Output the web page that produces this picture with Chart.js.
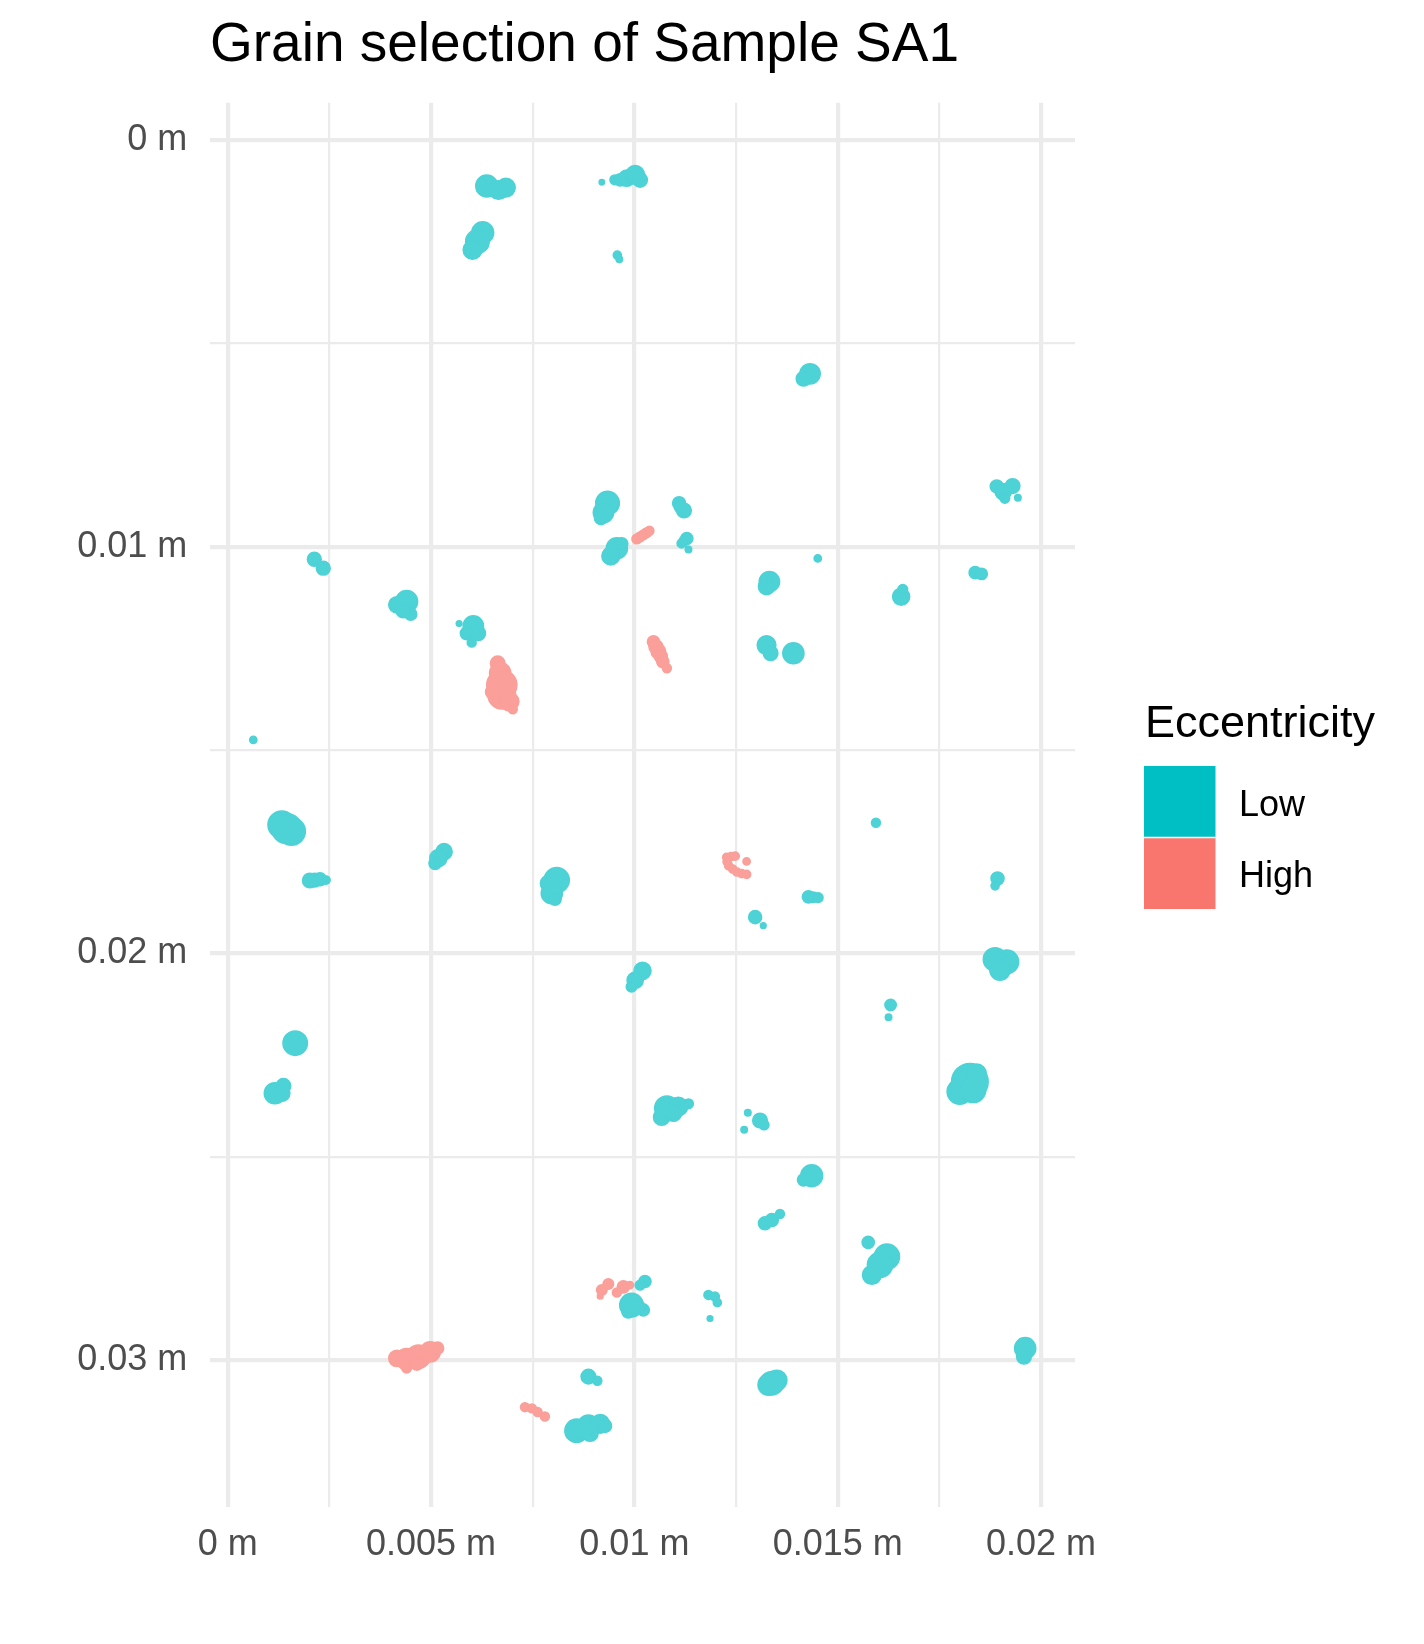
<!DOCTYPE html>
<html>
<head>
<meta charset="utf-8">
<script src="https://cdn.jsdelivr.net/npm/chart.js@4/dist/chart.umd.min.js"></script>
<style>
  html, body { margin: 0; padding: 0; background: #ffffff; }
  #wrap { width: 1424px; height: 1644px; position: relative; }
  canvas { display: block; }
</style>
</head>
<body>
<div id="wrap"><canvas id="c" width="1424" height="1644"></canvas></div>
<script>
// ---------------- DATA (metres) ----------------
const chartTitle = 'Grain selection of Sample SA1';
const legendTitle = 'Eccentricity';
const categories = ['Low', 'High'];

// axis ticks
const xMajor = [0, 0.005, 0.01, 0.015, 0.02];
const xLabels = ['0 m', '0.005 m', '0.01 m', '0.015 m', '0.02 m'];
const xMinor = [0.0025, 0.0075, 0.0125, 0.0175];
const yMajor = [0, 0.01, 0.02, 0.03];
const yLabels = ['0 m', '0.01 m', '0.02 m', '0.03 m'];
const yMinor = [0.005, 0.015, 0.025];
const xRange = [-0.000435, 0.020835];
const yRange = [-0.000917, 0.033615];

// Low eccentricity grains: lobe centres (x, y) and lobe radius r, one grain per line
const lowX = [
  0.00637, 0.00666, 0.00684,
  0.00627, 0.00614, 0.00602,
  0.00920,
  0.00952, 0.00965, 0.00981, 0.01002, 0.01014,
  0.00958, 0.00963,
  0.00934, 0.00924, 0.00918,
  0.00957, 0.00942, 0.00969,
  0.00213, 0.00235,
  0.01432, 0.01416,
  0.01891, 0.01907, 0.01930, 0.01943, 0.01911,
  0.01110, 0.01122, 0.01113,
  0.01129, 0.01116, 0.01133, 0.01122,
  0.01451,
  0.01838, 0.01854,
  0.00440, 0.00416, 0.00450, 0.00432,
  0.00604, 0.00616, 0.00588, 0.00600, 0.00569,
  0.00063,
  0.00133, 0.00157, 0.00145,
  0.00202, 0.00214, 0.00227, 0.00242,
  0.00532, 0.00518, 0.00510,
  0.00809, 0.00789, 0.00797, 0.00805,
  0.01020, 0.01002, 0.00993,
  0.01332, 0.01325,
  0.01325, 0.01335,
  0.01391,
  0.01656, 0.01660,
  0.01594,
  0.01428, 0.01440, 0.01452,
  0.01297, 0.01317,
  0.01893, 0.01887,
  0.01887, 0.01916, 0.01899, 0.01924,
  0.01630, 0.01625,
  0.00166,
  0.00116, 0.00137, 0.00133,
  0.00993, 0.01022, 0.01026, 0.01014, 0.00985, 0.01008,
  0.00887, 0.00909,
  0.00858, 0.00887, 0.00916, 0.00928, 0.00891, 0.00875,
  0.01080, 0.01067, 0.01108, 0.01133, 0.01096,
  0.01309, 0.01319, 0.01279, 0.01270,
  0.01825, 0.01800, 0.01833, 0.01842,
  0.01436, 0.01416,
  0.01321, 0.01338, 0.01358,
  0.01575, 0.01621, 0.01604, 0.01584,
  0.01182, 0.01198, 0.01204, 0.01186,
  0.01961, 0.01958,
  0.01330, 0.01350, 0.01338
];
const lowY = [
  0.00113, 0.00123, 0.00117,
  0.00228, 0.00250, 0.00270,
  0.00104,
  0.00098, 0.00098, 0.00094, 0.00086, 0.00098,
  0.00283, 0.00293,
  0.00893, 0.00916, 0.00930,
  0.01004, 0.01023, 0.00993,
  0.01031, 0.01053,
  0.00575, 0.00587,
  0.00852, 0.00865, 0.00851, 0.00880, 0.00881,
  0.00893, 0.00911, 0.00902,
  0.00980, 0.00992, 0.01007, 0.00986,
  0.01029,
  0.01064, 0.01067,
  0.01135, 0.01143, 0.01166, 0.01157,
  0.01195, 0.01213, 0.01213, 0.01236, 0.01189,
  0.01475,
  0.01684, 0.01700, 0.01693,
  0.01821, 0.01820, 0.01818, 0.01820,
  0.01750, 0.01766, 0.01779,
  0.01820, 0.01828, 0.01852, 0.01867,
  0.02043, 0.02066, 0.02082,
  0.01086, 0.01098,
  0.01242, 0.01262,
  0.01262,
  0.01123, 0.01105,
  0.01679,
  0.01861, 0.01862, 0.01863,
  0.01911, 0.01932,
  0.01816, 0.01834,
  0.02015, 0.02021, 0.02041, 0.02018,
  0.02127, 0.02157,
  0.02221,
  0.02344, 0.02326, 0.02344,
  0.02865, 0.02877, 0.02807, 0.02816, 0.02881, 0.02870,
  0.03041, 0.03051,
  0.03174, 0.03160, 0.03157, 0.03162, 0.03180, 0.03170,
  0.02381, 0.02403, 0.02377, 0.02370, 0.02393,
  0.02411, 0.02422, 0.02392, 0.02434,
  0.02316, 0.02340, 0.02336, 0.02295,
  0.02547, 0.02557,
  0.02664, 0.02656, 0.02641,
  0.02711, 0.02746, 0.02766, 0.02791,
  0.02840, 0.02844, 0.02859, 0.02898,
  0.02971, 0.02992,
  0.03061, 0.03050, 0.03057
];
const lowR = [
  0.00027, 0.00023, 0.00023,
  0.00027, 0.00029, 0.00023,
  0.000066,
  0.00012, 0.00015, 0.00020, 0.00023, 0.00018,
  0.00010, 0.00008,
  0.00029, 0.00025, 0.00016,
  0.00026, 0.00022, 0.00015,
  0.00017, 0.00017,
  0.00025, 0.00018,
  0.00016, 0.00020, 0.00018, 0.00008, 0.00012,
  0.00016, 0.00018, 0.00015,
  0.00015, 0.00011, 0.00008, 0.00012,
  0.00009,
  0.00015, 0.00014,
  0.00027, 0.00020, 0.00015, 0.00018,
  0.00025, 0.00018, 0.00016, 0.00011, 0.00007,
  0.00009,
  0.00034, 0.00034, 0.00037,
  0.00018, 0.00017, 0.00016, 0.00010,
  0.00020, 0.00021, 0.00015,
  0.00031, 0.00020, 0.00026, 0.00015,
  0.00021, 0.00020, 0.00013,
  0.00025, 0.00020,
  0.00023, 0.00018,
  0.00026,
  0.00021, 0.00012,
  0.00011,
  0.00015, 0.00013, 0.00012,
  0.00016, 0.00007,
  0.00016, 0.00010,
  0.00029, 0.00029, 0.00025, 0.00016,
  0.00014, 0.00008,
  0.00030,
  0.00026, 0.00018, 0.00020,
  0.00029, 0.00015, 0.00015, 0.00012, 0.00016, 0.00018,
  0.00018, 0.00011,
  0.00029, 0.00025, 0.00023, 0.00016, 0.00020, 0.00025,
  0.00030, 0.00020, 0.00023, 0.00012, 0.00020,
  0.00018, 0.00012, 0.00008, 0.00008,
  0.00045, 0.00031, 0.00031, 0.00023,
  0.00027, 0.00015,
  0.00016, 0.00016, 0.00011,
  0.00015, 0.00031, 0.00031, 0.00023,
  0.00011, 0.00011, 0.00010, 0.00007,
  0.00026, 0.00018,
  0.00026, 0.00025, 0.00029
];

// High eccentricity grains
const highX = [
  0.01006, 0.01014, 0.01022, 0.01030, 0.01037,
  0.00664, 0.00670, 0.00674, 0.00674, 0.00693, 0.00701, 0.00652,
  0.01047, 0.01053, 0.01059, 0.01065, 0.01070, 0.01080,
  0.01227, 0.01238, 0.01248, 0.01228, 0.01232, 0.01242, 0.01252, 0.01264, 0.01276, 0.01276,
  0.00920, 0.00936, 0.00916, 0.00957, 0.00973, 0.00989,
  0.00416, 0.00440, 0.00469, 0.00498, 0.00516, 0.00440, 0.00465,
  0.00731, 0.00748, 0.00762, 0.00780
];
const highY = [
  0.00981, 0.00976, 0.00971, 0.00966, 0.00961,
  0.01287, 0.01311, 0.01340, 0.01365, 0.01381, 0.01400, 0.01357,
  0.01234, 0.01246, 0.01258, 0.01270, 0.01283, 0.01299,
  0.01764, 0.01762, 0.01761, 0.01775, 0.01785, 0.01793, 0.01800, 0.01804, 0.01806, 0.01774,
  0.02828, 0.02813, 0.02843, 0.02834, 0.02820, 0.02816,
  0.02996, 0.02998, 0.02992, 0.02980, 0.02971, 0.03020, 0.03009,
  0.03116, 0.03119, 0.03128, 0.03139
];
const highR = [
  0.00012, 0.00012, 0.00012, 0.00012, 0.00011,
  0.00018, 0.00026, 0.00037, 0.00034, 0.00023, 0.00011, 0.00018,
  0.00015, 0.00017, 0.00018, 0.00016, 0.00015, 0.00011,
  0.00010, 0.00010, 0.00010, 0.00010, 0.00010, 0.00010, 0.00010, 0.00010, 0.00010, 0.00009,
  0.00013, 0.00013, 0.00007, 0.00011, 0.00015, 0.00009,
  0.00020, 0.00026, 0.00029, 0.00025, 0.00015, 0.00012, 0.00016,
  0.00011, 0.00011, 0.00011, 0.00011
];

// ---------------- STYLE ----------------
const keyColors = { Low: '#00BFC4', High: '#F8766D' };
const markColors = { Low: '#4DD2D6', High: '#FA9F99' };
const FONT = "'Liberation Sans', Arial, Helvetica, sans-serif";

function toPoints(xs, ys, rs) {
  return xs.map((x, i) => ({ x: x, y: ys[i], r: rs[i] }));
}

function radiusFromData(ctx) {
  const raw = ctx.raw;
  const xs = ctx.chart.scales && ctx.chart.scales.x;
  if (!raw || !xs) return 0;
  return Math.abs(xs.getPixelForValue(raw.r) - xs.getPixelForValue(0));
}

const legendPlugin = {
  id: 'ggLegend',
  afterDraw(chart) {
    const c = chart.ctx;
    c.save();
    c.fillStyle = '#000000';
    c.textAlign = 'left';
    c.textBaseline = 'alphabetic';
    c.font = '45px ' + FONT;
    c.fillText(legendTitle, 1145, 737);
    const keyX = 1144, keyTop = 766, keySize = 71.5;
    categories.forEach((cat, i) => {
      const top = keyTop + i * keySize;
      c.fillStyle = keyColors[cat];
      c.fillRect(keyX, top, keySize, keySize);
      c.fillStyle = '#000000';
      c.font = '36px ' + FONT;
      c.textBaseline = 'middle';
      c.fillText(cat, 1239, top + keySize / 2 + 4);
    });
    c.strokeStyle = '#ffffff';
    c.lineWidth = 1.5;
    c.beginPath();
    c.moveTo(keyX, keyTop + keySize);
    c.lineTo(keyX + keySize, keyTop + keySize);
    c.stroke();
    c.restore();
  }
};

function gridWidth(ctx, minorList) {
  const v = ctx.tick ? ctx.tick.value : null;
  return minorList.indexOf(v) >= 0 ? 2.2 : 4.2;
}

const chart = new Chart(document.getElementById('c'), {
  type: 'scatter',
  data: {
    datasets: [
      {
        label: categories[0],
        data: toPoints(lowX, lowY, lowR),
        backgroundColor: markColors.Low,
        borderColor: markColors.Low,
        borderWidth: 1.5,
        pointRadius: radiusFromData,
        pointHoverRadius: radiusFromData
      },
      {
        label: categories[1],
        data: toPoints(highX, highY, highR),
        backgroundColor: markColors.High,
        borderColor: markColors.High,
        borderWidth: 1.5,
        pointRadius: radiusFromData,
        pointHoverRadius: radiusFromData
      }
    ]
  },
  options: {
    responsive: false,
    devicePixelRatio: 1,
    animation: false,
    events: [],
    layout: { padding: { top: 0, left: 0, right: 349, bottom: 0 } },
    plugins: {
      legend: { display: false },
      tooltip: { enabled: false },
      title: {
        display: true,
        text: chartTitle,
        align: 'start',
        fullSize: false,
        color: '#000000',
        font: { family: FONT, size: 55, weight: 'normal', lineHeight: 1.2 },
        padding: { top: 12.9, bottom: 23.8 }
      }
    },
    scales: {
      x: {
        type: 'linear',
        position: 'bottom',
        min: xRange[0],
        max: xRange[1],
        afterBuildTicks(scale) {
          scale.ticks = xMajor.concat(xMinor).sort((a, b) => a - b).map(v => ({ value: v }));
        },
        afterFit(scale) { scale.height = 137; },
        ticks: {
          autoSkip: false,
          maxRotation: 0,
          minRotation: 0,
          padding: 16,
          color: '#4D4D4D',
          font: { family: FONT, size: 36 },
          callback(value) {
            const i = xMajor.indexOf(value);
            return i >= 0 ? xLabels[i] : '';
          }
        },
        grid: {
          color: '#EBEBEB',
          lineWidth: ctx => gridWidth(ctx, xMinor),
          drawTicks: false
        },
        border: { display: false }
      },
      y: {
        type: 'linear',
        position: 'left',
        reverse: true,
        min: yRange[0],
        max: yRange[1],
        afterBuildTicks(scale) {
          scale.ticks = yMajor.concat(yMinor).sort((a, b) => a - b).map(v => ({ value: v }));
        },
        afterFit(scale) { scale.width = 210; },
        ticks: {
          autoSkip: false,
          padding: 22.7,
          color: '#4D4D4D',
          font: { family: FONT, size: 36 },
          callback(value) {
            const i = yMajor.indexOf(value);
            return i >= 0 ? yLabels[i] : '';
          }
        },
        grid: {
          color: '#EBEBEB',
          lineWidth: ctx => gridWidth(ctx, yMinor),
          drawTicks: false
        },
        border: { display: false }
      }
    }
  },
  plugins: [legendPlugin]
});
</script>
</body>
</html>
